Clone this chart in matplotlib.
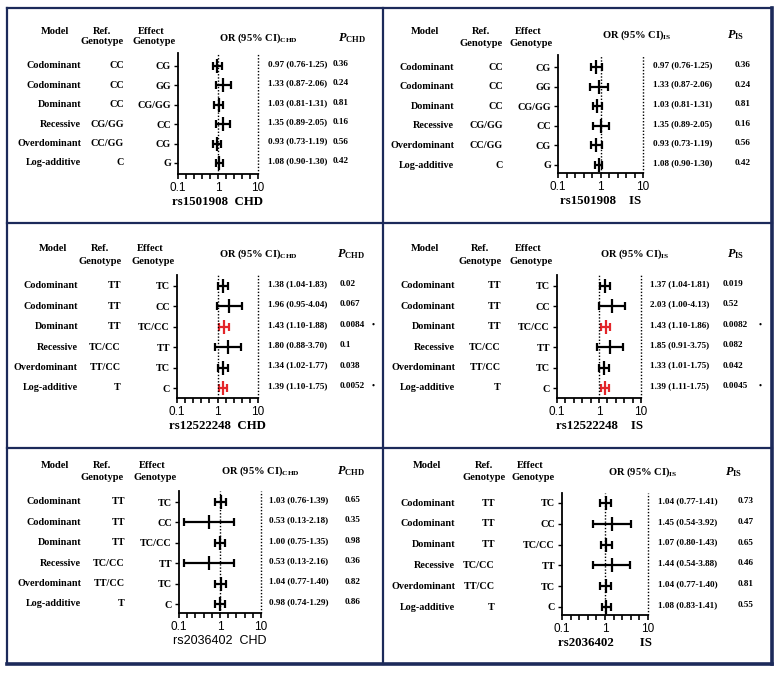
import numpy as np
import matplotlib
matplotlib.use("Agg")
import matplotlib.pyplot as plt
from matplotlib.lines import Line2D
from matplotlib.transforms import blended_transform_factory
from matplotlib.ticker import FixedLocator, NullFormatter

# --------------------------------------------------
# Data
# --------------------------------------------------
MODELS = ["Codominant", "Codominant", "Dominant", "Recessive", "Overdominant", "Log-additive"]

REF_1501908 = ["CC", "CC", "CC", "CG/GG", "CC/GG", "C"]
EFF_1501908 = ["CG", "GG", "CG/GG", "CC", "CG", "G"]
REF_T = ["TT", "TT", "TT", "TC/CC", "TT/CC", "T"]
EFF_T = ["TC", "CC", "TC/CC", "TT", "TC", "C"]

# rs1501908 CHD
OR_1501908_CHD = [0.97, 1.33, 1.03, 1.35, 0.93, 1.08]
LO_1501908_CHD = [0.76, 0.87, 0.81, 0.89, 0.73, 0.90]
HI_1501908_CHD = [1.25, 2.06, 1.31, 2.05, 1.19, 1.30]
P_1501908_CHD = ["0.36", "0.24", "0.81", "0.16", "0.56", "0.42"]

# rs1501908 IS (table values; the plotted bars sit a bit to the left)
OR_1501908_IS = [0.97, 1.33, 1.03, 1.35, 0.93, 1.08]
LO_1501908_IS = [0.76, 0.87, 0.81, 0.89, 0.73, 0.90]
HI_1501908_IS = [1.25, 2.06, 1.31, 2.05, 1.19, 1.30]
P_1501908_IS = ["0.36", "0.24", "0.81", "0.16", "0.56", "0.42"]
BAR_OR_1501908_IS = [0.80, 0.93, 0.83, 1.00, 0.80, 0.91]
BAR_LO_1501908_IS = [0.60, 0.58, 0.65, 0.65, 0.61, 0.75]
BAR_HI_1501908_IS = [1.06, 1.52, 1.07, 1.60, 1.07, 1.10]

# rs12522248 CHD
OR_12522248_CHD = [1.38, 1.96, 1.43, 1.80, 1.34, 1.39]
LO_12522248_CHD = [1.04, 0.95, 1.10, 0.88, 1.02, 1.10]
HI_12522248_CHD = [1.83, 4.04, 1.88, 3.70, 1.77, 1.75]
P_12522248_CHD = ["0.02", "0.067", "0.0084", "0.1", "0.038", "0.0052"]

# rs12522248 IS
OR_12522248_IS = [1.37, 2.03, 1.43, 1.85, 1.33, 1.39]
LO_12522248_IS = [1.04, 1.00, 1.10, 0.91, 1.01, 1.11]
HI_12522248_IS = [1.81, 4.13, 1.86, 3.75, 1.75, 1.75]
P_12522248_IS = ["0.019", "0.52", "0.0082", "0.082", "0.042", "0.0045"]

SIG_12522248 = [False, False, True, False, False, True]
NO_SIG = [False] * 6

# rs2036402 CHD
OR_2036402_CHD = [1.03, 0.53, 1.00, 0.53, 1.04, 0.98]
LO_2036402_CHD = [0.76, 0.13, 0.75, 0.13, 0.77, 0.74]
HI_2036402_CHD = [1.39, 2.18, 1.35, 2.16, 1.40, 1.29]
P_2036402_CHD = ["0.65", "0.35", "0.98", "0.36", "0.82", "0.86"]

# rs2036402 IS
OR_2036402_IS = [1.04, 1.45, 1.07, 1.44, 1.04, 1.08]
LO_2036402_IS = [0.77, 0.54, 0.80, 0.54, 0.77, 0.83]
HI_2036402_IS = [1.41, 3.92, 1.43, 3.88, 1.40, 1.41]
P_2036402_IS = ["0.73", "0.47", "0.65", "0.46", "0.81", "0.55"]

# --------------------------------------------------
# Style
# --------------------------------------------------
W, H = 780, 674
SERIF = "Liberation Serif"
SANS = "Liberation Sans"
NAVY = "#1c2a5a"
RED = "#e3262a"

plt.rcParams["mathtext.fontset"] = "custom"
plt.rcParams["mathtext.rm"] = "Liberation Serif:bold"
plt.rcParams["mathtext.bf"] = "Liberation Serif:bold"
plt.rcParams["mathtext.it"] = "Liberation Serif:italic:bold"


def fx(px):
    return px / W


def fy(py):
    return 1 - py / H


# layout of each panel in pixels of the original picture
LAYOUTS = {
    "TL": dict(model_r=81, ref_r=124, spine=178, x10=258, top=53, bottom=174, row0=66, row5=163,
               or_l=268, p_l=333, star=366, model_c=55, ref_c=102, eff_c=151, y1=31, y2=42,
               or_c=258, or_y=38, p_hdr=338),
    "TR": dict(model_r=454, ref_r=503, spine=558, x10=643, top=55, bottom=173, row0=67, row5=165,
               or_l=653, p_l=735, star=768, model_c=425, ref_c=481, eff_c=528, y1=32, y2=43,
               or_c=637, or_y=35, p_hdr=727),
    "ML": dict(model_r=78, ref_r=121, spine=177, x10=258, top=275, bottom=398, row0=286, row5=388,
               or_l=268, p_l=340, star=372, model_c=53, ref_c=100, eff_c=150, y1=249, y2=261,
               or_c=258, or_y=254, p_hdr=337),
    "MR": dict(model_r=455, ref_r=501, spine=557, x10=641, top=275, bottom=398, row0=286, row5=388,
               or_l=650, p_l=723, star=759, model_c=425, ref_c=480, eff_c=528, y1=249, y2=261,
               or_c=635, or_y=254, p_hdr=727),
    "BL": dict(model_r=81, ref_r=125, spine=179, x10=261, top=491, bottom=613, row0=502, row5=604,
               or_l=269, p_l=345, star=378, model_c=55, ref_c=102, eff_c=152, y1=465, y2=478,
               or_c=260, or_y=471, p_hdr=337),
    "BR": dict(model_r=455, ref_r=495, spine=562, x10=648, top=493, bottom=615, row0=503, row5=607,
               or_l=658, p_l=738, star=771, model_c=427, ref_c=484, eff_c=530, y1=465, y2=478,
               or_c=643, or_y=472, p_hdr=725),
}


def draw_panel(fig, lay, ref, eff, or_v, lo_v, hi_v, p_v, sig, outcome, xlabel,
               bar_or=None, bar_lo=None, bar_hi=None, xlabel_sans=False):
    ax = fig.add_axes([fx(lay["spine"]), fy(lay["bottom"]),
                       (lay["x10"] - lay["spine"]) / W, (lay["bottom"] - lay["top"]) / H])
    step = (lay["row5"] - lay["row0"]) / 5
    ax.set_xscale("log")
    ax.set_xlim(0.1, 10)
    ax.set_ylim(5 + (lay["bottom"] - lay["row5"]) / step, -(lay["row0"] - lay["top"]) / step)

    bo = np.array(bar_or if bar_or is not None else or_v)
    bl = np.array(bar_lo if bar_lo is not None else lo_v)
    bh = np.array(bar_hi if bar_hi is not None else hi_v)
    rows = np.arange(len(MODELS))
    for i in rows:
        c = RED if sig[i] else "black"
        ax.errorbar(bo[i], i, xerr=[[bo[i] - bl[i]], [bh[i] - bo[i]]], fmt="|", color=c,
                    ms=10, mew=1.6, elinewidth=1.6, capsize=3, capthick=1.6)

    ax.axvline(1, color="black", ls=(0, (1, 1.3)), lw=1)
    ax.axvline(10, color="black", ls=(0, (1, 1.3)), lw=1, clip_on=False)

    for s in ["top", "right"]:
        ax.spines[s].set_visible(False)
    for s in ["left", "bottom"]:
        ax.spines[s].set_linewidth(1.3)

    ax.xaxis.set_major_locator(FixedLocator([0.1, 1, 10]))
    ax.xaxis.set_minor_locator(FixedLocator([10 ** e for e in (-0.8, -0.6, -0.4, -0.2, 0.2, 0.4, 0.6, 0.8)]))
    ax.xaxis.set_minor_formatter(NullFormatter())
    ax.set_xticklabels(["0.1", "1", "10"], fontfamily=SANS, fontsize=8.5)
    ax.tick_params(axis="x", which="both", length=3.5, width=1.2, direction="out", pad=2)

    ax.set_yticks(rows)
    ax.set_yticklabels(eff, fontfamily=SERIF, fontweight="bold", fontsize=7.3)
    ax.tick_params(axis="y", length=3, width=1, pad=2)

    if xlabel_sans:
        ax.set_xlabel(xlabel, fontfamily=SANS, fontsize=9, labelpad=2)
    else:
        ax.set_xlabel(xlabel, fontfamily=SERIF, fontweight="bold", fontsize=9.3, labelpad=2)

    # table columns, rows follow the axes' own y scale
    tr = blended_transform_factory(fig.transFigure, ax.transData)
    tkw = dict(fontfamily=SERIF, fontweight="bold", va="center", transform=tr)
    for i in rows:
        ax.text(fx(lay["model_r"]), i, MODELS[i], ha="right", fontsize=7.3, **tkw)
        ax.text(fx(lay["ref_r"]), i, ref[i], ha="right", fontsize=7.3, **tkw)
        ax.text(fx(lay["or_l"]), i - 0.1, f"{or_v[i]:.2f} ({lo_v[i]:.2f}-{hi_v[i]:.2f})",
                ha="left", fontsize=6.6, **tkw)
        ax.text(fx(lay["p_l"]), i - 0.1, p_v[i], ha="left", fontsize=6.6, **tkw)
        if sig[i]:
            ax.text(fx(lay["star"]), i - 0.1, "\u2022", ha="left", fontsize=6, **tkw)

    hkw = dict(fontfamily=SERIF, fontweight="bold", fontsize=7.6, va="center")
    fig.text(fx(lay["model_c"]), fy(lay["y1"]), "Model", ha="center", **hkw)
    fig.text(fx(lay["ref_c"]), fy(lay["y1"]), "Ref.", ha="center", **hkw)
    fig.text(fx(lay["ref_c"]), fy(lay["y2"]), "Genotype", ha="center", **hkw)
    fig.text(fx(lay["eff_c"]), fy(lay["y1"]), "Effect", ha="center", **hkw)
    fig.text(fx(lay["eff_c"]) + 0.004, fy(lay["y2"]), "Genotype", ha="center", **hkw)
    fig.text(fx(lay["or_c"]), fy(lay["or_y"]), "OR (95% CI)$_{\\mathbf{" + outcome + "}}$",
             ha="center", **hkw)
    fig.text(fx(lay["p_hdr"]), fy(lay["or_y"]), "$P_{\\mathbf{" + outcome + "}}$",
             ha="left", fontfamily=SERIF, fontsize=8.8, va="center")
    return ax


fig = plt.figure(figsize=(W / 100, H / 100), dpi=100)
fig.patch.set_facecolor("white")

draw_panel(fig, LAYOUTS["TL"], REF_1501908, EFF_1501908, OR_1501908_CHD, LO_1501908_CHD,
           HI_1501908_CHD, P_1501908_CHD, NO_SIG, "CHD", "rs1501908  CHD")
draw_panel(fig, LAYOUTS["TR"], REF_1501908, EFF_1501908, OR_1501908_IS, LO_1501908_IS,
           HI_1501908_IS, P_1501908_IS, NO_SIG, "IS", "rs1501908    IS",
           bar_or=BAR_OR_1501908_IS, bar_lo=BAR_LO_1501908_IS, bar_hi=BAR_HI_1501908_IS)
draw_panel(fig, LAYOUTS["ML"], REF_T, EFF_T, OR_12522248_CHD, LO_12522248_CHD,
           HI_12522248_CHD, P_12522248_CHD, SIG_12522248, "CHD", "rs12522248  CHD")
draw_panel(fig, LAYOUTS["MR"], REF_T, EFF_T, OR_12522248_IS, LO_12522248_IS,
           HI_12522248_IS, P_12522248_IS, SIG_12522248, "IS", "rs12522248    IS")
draw_panel(fig, LAYOUTS["BL"], REF_T, EFF_T, OR_2036402_CHD, LO_2036402_CHD,
           HI_2036402_CHD, P_2036402_CHD, NO_SIG, "CHD", "rs2036402  CHD", xlabel_sans=True)
draw_panel(fig, LAYOUTS["BR"], REF_T, EFF_T, OR_2036402_IS, LO_2036402_IS,
           HI_2036402_IS, P_2036402_IS, NO_SIG, "IS", "rs2036402        IS")

# --------------------------------------------------
# Panel frames
# --------------------------------------------------
def frame_line(x0, y0, x1, y1, lw=1.6):
    fig.add_artist(Line2D([fx(x0), fx(x1)], [fy(y0), fy(y1)], color=NAVY, lw=lw,
                          transform=fig.transFigure, solid_capstyle="projecting"))


frame_line(7, 8, 772, 8)
frame_line(7, 8, 7, 664)
frame_line(7, 664, 772, 664, lw=2.6)
frame_line(772, 8, 772, 664, lw=2.6)
frame_line(383, 8, 383, 664)
frame_line(7, 223, 772, 223)
frame_line(7, 448, 772, 448)

fig.savefig("out.png", dpi=100)
